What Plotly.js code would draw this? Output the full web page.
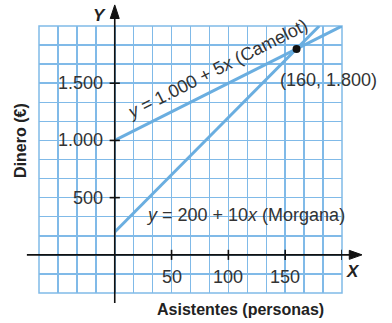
<!DOCTYPE html>
<html><head><meta charset="utf-8">
<script src="https://cdn.plot.ly/plotly-3.0.1.min.js"></script>
<style>html,body{margin:0;padding:0;background:#fff}#chart{width:392px;height:323px}</style>
</head><body><div id="chart"></div>
<script>
// Data
const camelotX = [0, 200];
const camelotY = [1000, 2000];
const morganaX = [0, 180];
const morganaY = [200, 2000];
const pointX = [160];
const pointY = [1800];
const xTickVals = [50, 100, 150];
const xTickText = ['50', '100', '150'];
const yTickVals = [500, 1000, 1500];
const yTickText = ['500', '1.000', '1.500'];
const camelotLabel = '<i>y</i> = 1.000 + 5<i>x</i> (Camelot)';
const morganaLabel = '<i>y</i> = 200 + 10<i>x</i> (Morgana)';
const pointLabel = '(160, 1.800)';

const X0 = -200/3, X1 = 200, Y0 = -1000/3, Y1 = 2000;
const lineColor = '#6aaee0';
const gridColor = '#80bae8';
const font = 'Liberation Sans, Arial, sans-serif';
const txt = '#333';

// paper position of the axes' origin
const px0 = (0 - X0) / (X1 - X0);
const py0 = (0 - Y0) / (Y1 - Y0);

const traces = [
  {x: camelotX, y: camelotY, mode: 'lines', line: {color: lineColor, width: 3}, hoverinfo: 'skip'},
  {x: morganaX, y: morganaY, mode: 'lines', line: {color: lineColor, width: 3}, hoverinfo: 'skip'},
  {x: pointX, y: pointY, mode: 'markers', marker: {color: '#111', size: 8}, hoverinfo: 'skip', cliponaxis: false}
];

const hx = 0.0169, hy = 0.01485;
const shapes = [
  {type: 'rect', xref: 'paper', yref: 'paper', x0: 0, x1: 1, y0: 0, y1: 1, line: {color: gridColor, width: 1.5}, layer: 'below'},
  {type: 'line', xref: 'paper', yref: 'paper', x0: -0.04, x1: 1.035, y0: py0, y1: py0, line: {color: '#111', width: 1.6}, layer: 'above'},
  {type: 'line', xref: 'paper', yref: 'paper', x0: px0, x1: px0, y0: -0.037, y1: 1.04, line: {color: '#111', width: 1.6}, layer: 'above'},
  {type: 'path', xref: 'paper', yref: 'paper', path: `M 1.066 ${py0} L 1.024 ${py0 + hx} L 1.024 ${py0 - hx} Z`, fillcolor: '#111', line: {color: '#111', width: 1}, layer: 'above'},
  {type: 'path', xref: 'paper', yref: 'paper', path: `M ${px0} 1.079 L ${px0 - hy} 1.028 L ${px0 + hy} 1.028 Z`, fillcolor: '#111', line: {color: '#111', width: 1}, layer: 'above'}
];
xTickVals.concat([200]).forEach(v => shapes.push({type: 'line', xref: 'x', yref: 'y', x0: v, x1: v, y0: -44, y1: 44, line: {color: '#111', width: 1.6}, layer: 'above'}));
yTickVals.forEach(v => shapes.push({type: 'line', xref: 'x', yref: 'y', x0: -4.5, x1: 4.5, y0: v, y1: v, line: {color: '#111', width: 1.6}, layer: 'above'}));

const annotations = [];
xTickVals.forEach((v, i) => annotations.push({xref: 'x', yref: 'y', x: v, y: -195, text: xTickText[i], showarrow: false, font: {family: font, size: 18, color: txt}}));
yTickVals.forEach((v, i) => annotations.push({xref: 'x', yref: 'y', x: -9, y: v, xanchor: 'right', text: yTickText[i], showarrow: false, font: {family: font, size: 18, color: txt}}));
annotations.push({xref: 'paper', yref: 'paper', x: 0.201, y: 1.041, xanchor: 'center', yanchor: 'middle', text: '<b><i>Y</i></b>', showarrow: false, font: {family: font, size: 17, color: '#222'}});
annotations.push({xref: 'paper', yref: 'paper', x: 1.035, y: 0.079, xanchor: 'center', yanchor: 'middle', text: '<b><i>X</i></b>', showarrow: false, font: {family: font, size: 17, color: '#222'}});
annotations.push({xref: 'x', yref: 'y', x: 90, y: 1625, text: camelotLabel, textangle: -26.7, showarrow: false, font: {family: font, size: 18, color: txt}});
annotations.push({xref: 'x', yref: 'y', x: 115, y: 350, text: morganaLabel, showarrow: false, font: {family: font, size: 18, color: txt}});
annotations.push({xref: 'x', yref: 'y', x: 144, y: 1530, xanchor: 'left', text: pointLabel, showarrow: false, font: {family: font, size: 18, color: txt}});
annotations.push({xref: 'paper', yref: 'paper', x: -0.063, y: 0.573, xanchor: 'center', yanchor: 'middle', textangle: -90, text: '<b>Dinero (€)</b>', showarrow: false, font: {family: font, size: 16, color: '#222'}});
annotations.push({xref: 'paper', yref: 'paper', x: 0.665, y: -0.063, xanchor: 'center', yanchor: 'middle', text: '<b>Asistentes (personas)</b>', showarrow: false, font: {family: font, size: 16, color: '#222'}});

const layout = {
  width: 392, height: 323,
  margin: {l: 39, r: 50, t: 26, b: 30},
  paper_bgcolor: '#fff', plot_bgcolor: '#fff',
  showlegend: false,
  xaxis: {range: [X0, X1], tick0: 0, dtick: 50/3, showgrid: true, gridcolor: gridColor, gridwidth: 1.5, zeroline: false, showticklabels: false, ticks: '', showline: false, fixedrange: true},
  yaxis: {range: [Y0, Y1], tick0: 0, dtick: 500/3, showgrid: true, gridcolor: gridColor, gridwidth: 1.5, zeroline: false, showticklabels: false, ticks: '', showline: false, fixedrange: true},
  shapes: shapes,
  annotations: annotations
};
Plotly.newPlot('chart', traces, layout, {staticPlot: true, displayModeBar: false});
</script></body></html>
